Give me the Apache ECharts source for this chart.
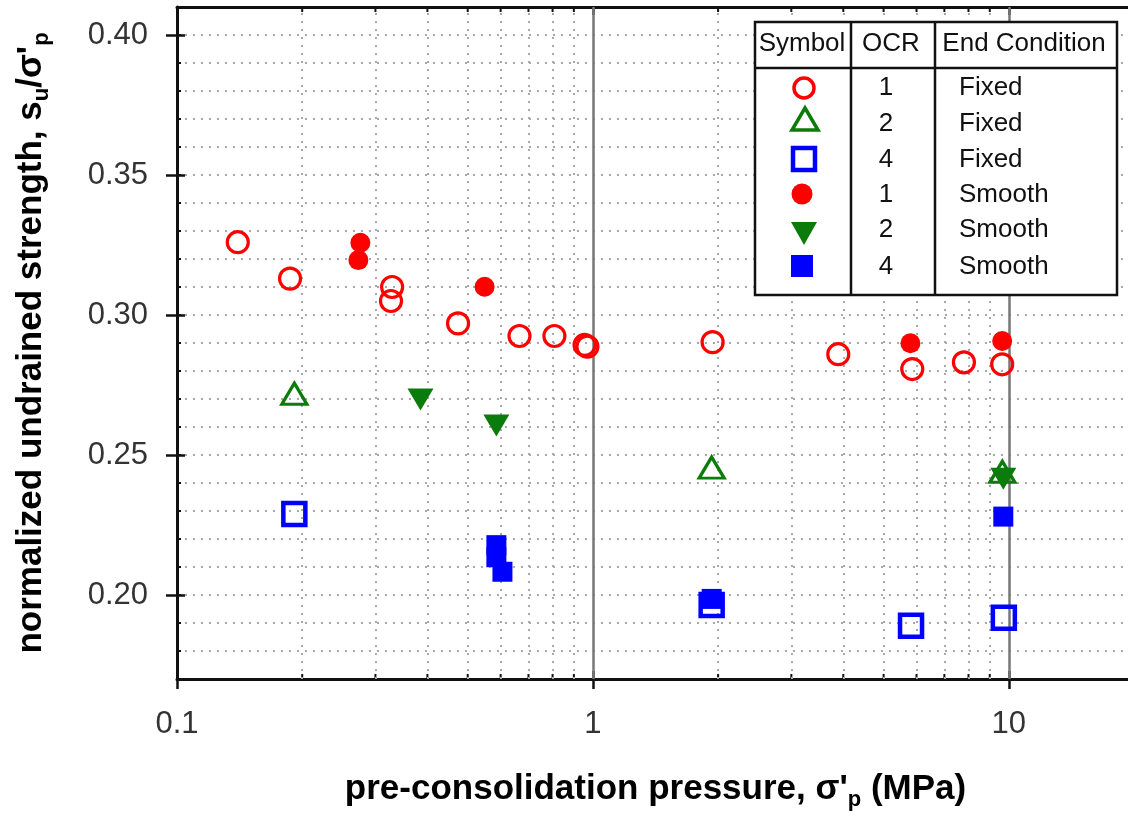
<!DOCTYPE html>
<html><head><meta charset="utf-8">
<script src="https://cdn.jsdelivr.net/npm/echarts@6/dist/echarts.min.js"></script>
<style>html,body{margin:0;padding:0;background:#fff}#c{width:1128px;height:816px}</style>
</head><body><div id="c"></div>
<script>
// ---- axis ticks ----
const xMajorTicks = [0.1, 1, 10];
const xMinorTicks = [0.2, 0.3, 0.4, 0.5, 0.6, 0.7, 0.8, 0.9, 2, 3, 4, 5, 6, 7, 8, 9];
const yTickLabels = [0.20, 0.25, 0.30, 0.35, 0.40];

// ---- data ----
const ocr1FixedX = [0.140, 0.187, 0.329, 0.327, 0.474, 0.666, 0.808, 0.955, 0.970, 1.94, 3.89, 5.86, 7.80, 9.64];
const ocr1FixedY = [0.326, 0.313, 0.310, 0.305, 0.297, 0.2925, 0.2925, 0.2893, 0.2887, 0.2903, 0.286, 0.2807, 0.2831, 0.2824];
const ocr1SmoothX = [0.276, 0.273, 0.549, 5.80, 9.64];
const ocr1SmoothY = [0.3258, 0.3196, 0.3101, 0.2899, 0.2907];
const ocr2FixedX = [0.1915, 1.93, 9.65];
const ocr2FixedY = [0.2719, 0.2455, 0.2440];
const ocr2SmoothX = [0.385, 0.586, 9.70];
const ocr2SmoothY = [0.2698, 0.2605, 0.2415];
const ocr4FixedX = [0.1915, 1.93, 5.82, 9.73];
const ocr4FixedY = [0.2289, 0.1964, 0.1890, 0.1919];
const ocr4SmoothX = [0.586, 0.586, 0.606, 1.93, 9.70];
const ocr4SmoothY = [0.2178, 0.2135, 0.2083, 0.1986, 0.2280];

// ---- legend table ----
const legendHeaders = ['Symbol', 'OCR', 'End Condition'];
const legendOCR = ['1', '2', '4', '1', '2', '4'];
const legendCond = ['Fixed', 'Fixed', 'Fixed', 'Smooth', 'Smooth', 'Smooth'];

const X_MIN = 0.1, X_MAX = 20, Y_MIN = 0.17, Y_MAX = 0.41;
const RED = '#ff0000', GREEN = '#0b7b0b', BLUE = '#0000ff';
const SANS = "'Liberation Sans', Arial, sans-serif";

const zip = (xs, ys) => xs.map((x, i) => [x, ys[i]]);

const chart = echarts.init(document.getElementById('c'), null, {renderer: 'canvas'});

const isMajor = v => xMajorTicks.some(t => Math.abs(t - v) / t < 1e-6);

const baseX = {
  type: 'log', logBase: 10, min: X_MIN, max: X_MAX,
  splitLine: {show: false}, axisLabel: {show: false},
  axisLine: {show: false}, axisTick: {show: false}
};
const baseY = {
  type: 'value', min: Y_MIN, max: Y_MAX, interval: 0.01,
  splitLine: {show: false}, axisLabel: {show: false},
  axisLine: {show: false}, axisTick: {show: false}
};

const legendY = [88, 124, 160, 195, 230, 267];
const LFONT = {fontSize: 26, fontFamily: SANS, fill: '#111'};
const graphics = [
  {type: 'rect', z: 100, shape: {x: 755, y: 22, width: 362, height: 273}, style: {fill: '#fff', stroke: '#111', lineWidth: 2.5}},
  {type: 'line', z: 101, shape: {x1: 755, y1: 68, x2: 1117, y2: 68}, style: {stroke: '#111', lineWidth: 2.5}},
  {type: 'line', z: 101, shape: {x1: 851, y1: 22, x2: 851, y2: 295}, style: {stroke: '#111', lineWidth: 2.5}},
  {type: 'line', z: 101, shape: {x1: 935, y1: 22, x2: 935, y2: 295}, style: {stroke: '#111', lineWidth: 2.5}},
  {type: 'text', z: 101, style: Object.assign({text: legendHeaders[0], x: 802, y: 44, align: 'center', verticalAlign: 'middle'}, LFONT)},
  {type: 'text', z: 101, style: Object.assign({text: legendHeaders[1], x: 891, y: 44, align: 'center', verticalAlign: 'middle'}, LFONT)},
  {type: 'text', z: 101, style: Object.assign({text: legendHeaders[2], x: 1024, y: 44, align: 'center', verticalAlign: 'middle'}, LFONT)},
  // symbols
  {type: 'circle', z: 101, shape: {cx: 804, cy: 88, r: 10}, style: {fill: 'none', stroke: RED, lineWidth: 3.5}},
  {type: 'polygon', z: 101, shape: {points: [[805, 108], [818, 130], [792, 130]]}, style: {fill: 'none', stroke: GREEN, lineWidth: 3.5}},
  {type: 'rect', z: 101, shape: {x: 793, y: 148, width: 22, height: 22}, style: {fill: 'none', stroke: BLUE, lineWidth: 4.5}},
  {type: 'circle', z: 101, shape: {cx: 802, cy: 194, r: 10.5}, style: {fill: RED}},
  {type: 'polygon', z: 101, shape: {points: [[791, 222], [817, 222], [804, 245]]}, style: {fill: GREEN}},
  {type: 'rect', z: 101, shape: {x: 791, y: 255, width: 22, height: 22}, style: {fill: BLUE}}
];
legendOCR.forEach((t, i) => graphics.push({type: 'text', z: 101, style: Object.assign({text: t, x: 886, y: legendY[i], align: 'center', verticalAlign: 'middle'}, LFONT)}));
legendCond.forEach((t, i) => graphics.push({type: 'text', z: 101, style: Object.assign({text: t, x: 959, y: legendY[i], align: 'left', verticalAlign: 'middle'}, LFONT)}));

const titleRich = {
  t: {fontSize: 35, fontWeight: 'bold', fontFamily: SANS, color: '#000', lineHeight: 44},
  s: {fontSize: 22, fontWeight: 'bold', fontFamily: SANS, color: '#000', lineHeight: 22, verticalAlign: 'bottom'}
};

const openStyle = c => ({color: 'rgba(0,0,0,0)', borderColor: c, borderWidth: 3.2, opacity: 1});

const option = {
  animation: false,
  backgroundColor: '#fff',
  grid: {left: 177, right: -6, top: 7, bottom: 137, containLabel: false, outerBoundsMode: 'none', show: false},
  xAxis: [
    Object.assign({}, baseX, {
      position: 'bottom',
      axisLine: {show: true, lineStyle: {color: '#111', width: 3}},
      axisTick: {show: true, inside: false, length: 10, lineStyle: {color: '#111', width: 2.5}},
      axisLabel: {show: true, margin: 30, fontSize: 31, fontFamily: SANS, color: '#333',
        formatter: v => isMajor(v) ? String(v) : ''},
      name: "{t|pre-consolidation pressure, σ'}{s|p}{t| (MPa)}",
      nameLocation: 'middle', nameGap: 88,
      nameTextStyle: {rich: titleRich}
    }),
    Object.assign({}, baseX, {
      position: 'bottom',
      axisTick: {show: true, inside: true, length: 8, lineStyle: {color: '#111', width: 2.5}}
    }),
    Object.assign({}, baseX, {
      position: 'top',
      axisLine: {show: true, lineStyle: {color: '#111', width: 3}},
      axisTick: {show: true, inside: true, length: 8, lineStyle: {color: '#111', width: 2.5}}
    })
  ],
  yAxis: [
    Object.assign({}, baseY, {
      position: 'left',
      axisLine: {show: true, lineStyle: {color: '#111', width: 3}},
      axisTick: {show: true, inside: true, length: 4, lineStyle: {color: '#111', width: 2}},
      splitLine: {show: true, lineStyle: {color: '#a8a8a8', width: 2, type: [2, 6]}},
      axisLabel: {show: true, customValues: yTickLabels, margin: 29, fontSize: 31, fontFamily: SANS, color: '#333',
        formatter: v => v.toFixed(2)},
      name: "{t|normalized undrained strength, s}{s|u}{t|/σ'}{s|p}",
      nameLocation: 'middle', nameGap: 124, nameRotate: 90,
      nameTextStyle: {rich: titleRich}
    }),
    Object.assign({}, baseY, {
      position: 'left',
      axisTick: {show: true, customValues: yTickLabels, inside: false, length: 11, lineStyle: {color: '#111', width: 2.5}}
    }),
    Object.assign({}, baseY, {
      position: 'left',
      axisTick: {show: true, customValues: yTickLabels, inside: true, length: 8, lineStyle: {color: '#111', width: 2.5}}
    })
  ],
  graphic: graphics,
  series: [
    {
      type: 'scatter', data: [], silent: true, z: 1,
      markLine: {
        silent: true, symbol: ['none', 'none'], label: {show: false}, animation: false,
        lineStyle: {color: '#a8a8a8', type: [2, 6], width: 2, opacity: 1},
        emphasis: {disabled: true},
        data: xMinorTicks.map(v => ({xAxis: v})).concat(
          xMajorTicks.slice(1).map(v => ({xAxis: v, lineStyle: {type: 'solid', color: '#777', width: 2.5}})))
      }
    },
    {
      type: 'custom', silent: true, z: 3, clip: false,
      data: xMinorTicks.map(v => [v, Y_MIN]),
      encode: {x: 0, y: 1},
      renderItem: (params, api) => {
        const b = api.coord([api.value(0), Y_MIN]);
        const t = api.coord([api.value(0), Y_MAX]);
        return {type: 'group', children: [
          {type: 'line', shape: {x1: b[0], y1: b[1], x2: b[0], y2: b[1] - 5}, style: {stroke: '#111', lineWidth: 2}},
          {type: 'line', shape: {x1: t[0], y1: t[1], x2: t[0], y2: t[1] + 5}, style: {stroke: '#111', lineWidth: 2}}
        ]};
      }
    },
    {name: 'OCR1 Fixed', type: 'scatter', z: 5, data: zip(ocr1FixedX, ocr1FixedY), symbol: 'circle', symbolSize: 21, itemStyle: openStyle(RED)},
    {name: 'OCR2 Fixed', type: 'scatter', z: 5, data: zip(ocr2FixedX, ocr2FixedY), symbol: 'triangle', symbolSize: [25, 21], itemStyle: openStyle(GREEN)},
    {name: 'OCR4 Fixed', type: 'scatter', z: 5, data: zip(ocr4FixedX, ocr4FixedY), symbol: 'rect', symbolSize: 22, itemStyle: {color: 'rgba(0,0,0,0)', borderColor: BLUE, borderWidth: 4.5, opacity: 1}},
    {name: 'OCR1 Smooth', type: 'scatter', z: 6, data: zip(ocr1SmoothX, ocr1SmoothY), symbol: 'circle', symbolSize: 20, itemStyle: {color: RED, opacity: 1}},
    {name: 'OCR2 Smooth', type: 'scatter', z: 6, data: zip(ocr2SmoothX, ocr2SmoothY), symbol: 'triangle', symbolRotate: 180, symbolSize: [26, 22], itemStyle: {color: GREEN, opacity: 1}},
    {name: 'OCR4 Smooth', type: 'scatter', z: 6, data: zip(ocr4SmoothX, ocr4SmoothY), symbol: 'rect', symbolSize: 20, itemStyle: {color: BLUE, opacity: 1}}
  ]
};
chart.setOption(option);
</script></body></html>
